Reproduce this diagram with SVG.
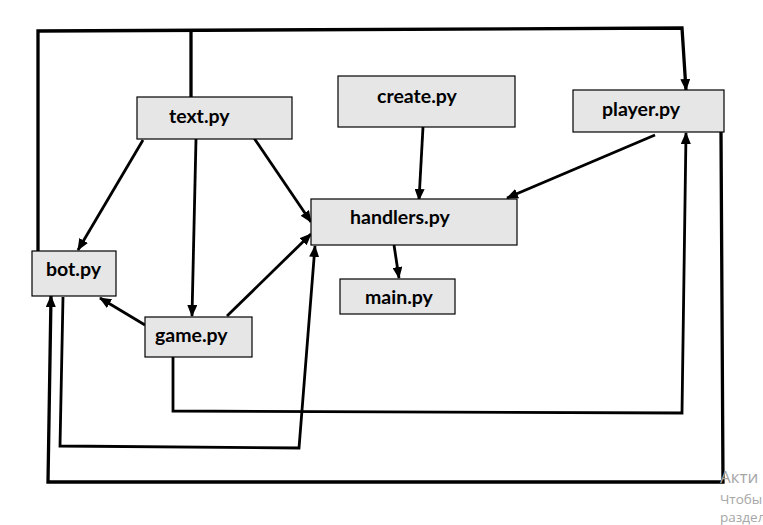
<svg xmlns="http://www.w3.org/2000/svg" width="763" height="525" viewBox="0 0 763 525">
<style>
.box{fill:#e6e6e6;stroke:#000;stroke-width:1.2}
.lbl{font-family:Lato,"Liberation Sans",sans-serif;font-weight:bold;font-size:19.5px;fill:#000}
.c{fill:none;stroke:#000;stroke-width:2.8;stroke-linejoin:miter}
.t{stroke-width:3.3}
.a{marker-end:url(#ah)}
.wm{font-family:"Open Sans","Noto Sans",sans-serif;fill:#a6a6a6}
</style>
<defs>
<marker id="ah" markerUnits="userSpaceOnUse" markerWidth="12" markerHeight="10" refX="11" refY="5" orient="auto">
<path d="M0,0 L12,5 L0,10 Z" fill="#000"/>
</marker>
</defs>
<rect width="763" height="525" fill="#fff"/>
<g id="connectors">
<path class="c t" d="M38,251 L38,31 L682,28 L686,90" marker-end="url(#ah)"/>
<path class="c t" d="M191,97 L191,31"/>
<path class="c a" d="M143,140 L78,250"/>
<path class="c a" d="M196,139 L192,316"/>
<path class="c a" d="M254,138 L311,222"/>
<path class="c a" d="M423,127 L419,200"/>
<path class="c a" d="M655,135 L507,198"/>
<path class="c a" d="M394,245 L399,278"/>
<path class="c a" d="M145,325 L100,298"/>
<path class="c a" d="M227,316 L311,234"/>
<path class="c a" d="M173,357 L173,411 L682,413 L686,133"/>
<path class="c a" d="M63,297 L60,446 L299,448 L315,246"/>
<path class="c t a" d="M721,132 L723,482 L48,482 L51,296"/>
</g>
<g id="text_py"><rect class="box" x="137" y="97" width="155" height="42"/><text class="lbl" x="169" y="123">text.py</text></g>
<g id="create_py"><rect class="box" x="338" y="76" width="177" height="51"/><text class="lbl" x="377" y="103">create.py</text></g>
<g id="player_py"><rect class="box" x="573" y="90" width="151" height="42"/><text class="lbl" x="602" y="116">player.py</text></g>
<g id="handlers_py"><rect class="box" x="311" y="199" width="206" height="46"/><text class="lbl" x="350" y="224">handlers.py</text></g>
<g id="bot_py"><rect class="box" x="32" y="251" width="84" height="45"/><text class="lbl" x="46" y="276">bot.py</text></g>
<g id="game_py"><rect class="box" x="145" y="317" width="107" height="40"/><text class="lbl" x="155" y="342">game.py</text></g>
<g id="main_py"><rect class="box" x="340" y="279" width="115" height="35"/><text class="lbl" x="365" y="304">main.py</text></g>
<g id="watermark">
<text class="wm" x="720" y="483" font-size="17">Акти</text>
<text class="wm" x="720" y="504" font-size="13.5">Чтобы</text>
<text class="wm" x="720" y="522" font-size="13.5">раздел</text>
</g>
</svg>
